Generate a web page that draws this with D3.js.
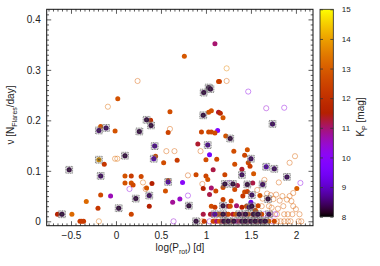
<!DOCTYPE html>
<html>
<head>
<meta charset="utf-8">
<script src="https://cdn.jsdelivr.net/npm/d3@7"></script>
<style>
  body { margin: 0; background: #fff; }
  text { font-family: "Liberation Sans", Arial, sans-serif; fill: #222; }
</style>
</head>
<body>
<svg id="chart" width="380" height="266"></svg>
<script>
// [log Prot, flares per day, Kp]
const filledPts = [
  [0.76,0.327,12.9],[0.02,0.243,12.8],[0.60,0.217,12.7],[0.385,0.200,12.0],[-0.17,0.188,12.8],
  [-0.01,0.179,12.8],[0.58,0.176,12.5],[1.14,0.277,12.7],[1.03,0.216,12.8],[1.06,0.219,12.8],
  [1.14,0.216,11.3],[1.10,0.352,11.0],[1.15,0.277,12.4],[1.16,0.214,11.8],[1.19,0.205,12.9],
  [1.13,0.180,9.8],[0.95,0.177,12.5],[1.03,0.177,12.6],[1.06,0.177,12.6],[0.44,0.129,12.7],
  [-0.13,0.113,12.2],[0.53,0.116,12.7],[0.68,0.121,12.3],[0.10,0.090,12.8],[0.17,0.090,12.3],
  [0.28,0.089,12.6],[0.10,0.076,12.8],[0.17,0.076,12.8],[0.19,0.072,12.6],[0.40,0.075,11.5],
  [0.74,0.077,10.0],[0.58,0.081,12.8],[0.34,0.066,12.9],[0.55,0.060,12.8],[-0.17,0.052,12.6],
  [-0.06,0.050,10.6],[-0.33,0.039,13.2],[0.63,0.038,10.8],[0.71,0.044,10.5],[0.37,0.030,11.5],
  [-0.20,0.026,12.2],[-0.65,0.014,11.6],[-0.49,0.014,13.2],[0.17,0.014,12.5],[-0.40,0.0,12.3],
  [-0.36,0.0,12.3],[-0.38,0.0,12.3],
  [1.22,0.169,12.8],[1.10,0.175,12.7],[0.91,0.153,11.3],[1.04,0.132,9.5],[1.00,0.122,12.7],
  [1.12,0.123,12.6],[1.31,0.139,12.7],[1.46,0.142,12.8],[1.43,0.131,12.5],[1.32,0.113,12.7],
  [1.47,0.116,12.6],[1.49,0.109,12.3],[2.01,0.065,13.0],[1.40,0.103,11.3],[1.08,0.102,11.2],
  [1.21,0.092,12.5],[0.89,0.092,12.6],[1.00,0.090,12.5],[1.53,0.094,12.9],[1.35,0.071,11.2],
  [1.52,0.076,11.2],[1.02,0.083,12.8],[1.06,0.066,11.0],[0.97,0.065,11.5],[1.19,0.067,12.7],
  [1.32,0.063,12.6],[1.43,0.058,12.7],[1.46,0.059,12.4],[1.60,0.051,12.8],[1.04,0.053,11.2],
  [1.11,0.060,12.6],[1.19,0.043,12.4],[1.28,0.040,12.7],[1.41,0.050,12.2],[1.50,0.038,9.3],
  [1.34,0.031,11.0],
  [1.06,0.030,12.7],[1.10,0.028,12.3],[1.25,0.030,11.3],[1.27,0.030,12.8],[1.40,0.028,11.6],
  [1.45,0.030,12.7],[1.58,0.031,12.5],[1.55,0.022,12.8],
  [0.97,0.014,11.2],[1.05,0.014,11.3],[1.08,0.014,11.0],[1.13,0.014,12.6],[1.16,0.014,12.7],
  [1.23,0.014,11.3],[1.25,0.014,12.5],[1.30,0.014,11.3],[1.33,0.014,12.8],[1.41,0.014,11.1],
  [1.47,0.014,12.7],[1.52,0.014,12.3],[1.56,0.014,11.2],[1.62,0.014,12.6],
  [0.98,0.0,12.2],[1.08,0.0,12.5],[1.12,0.0,11.0],[1.15,0.0,12.8],[1.18,0.0,11.3],
  [1.22,0.0,12.4],[1.29,0.0,12.7],[1.34,0.0,10.8],[1.37,0.0,11.2],[1.42,0.0,12.6],
  [1.47,0.0,11.3],[1.54,0.0,12.7],[1.58,0.0,11.5],[1.64,0.0,12.8],[1.70,0.0,13.0],[1.76,0.0,12.6]
];

const openPts = [
  [0.24,0.278,13.0],[-0.09,0.227,13.2],[0.60,0.183,13.0],[1.23,0.303,13.6],[1.23,0.278,13.0],
  [1.47,0.257,10.2],[1.67,0.224,10.4],[1.87,0.225,10.3],[0.56,0.139,13.0],[0.65,0.139,13.0],
  [-0.01,0.124,13.2],[0.015,0.124,13.2],[0.80,0.091,12.9],[0.30,0.077,13.2],[0.33,0.064,12.9],
  [0.15,0.064,10.3],[0.80,0.051,10.2],[-0.19,0.0,13.3],[0.64,0.0,10.4],[0.94,0.139,13.0],
  [1.99,0.129,13.1],[1.93,0.116,13.0],[2.05,0.076,10.2],[1.26,0.076,10.3],[1.65,0.082,13.0],
  [1.81,0.077,13.0],[0.96,0.074,13.0],[1.57,0.062,13.0],
  [1.68,0.055,13.0],[1.72,0.052,12.9],[1.78,0.053,13.0],[1.85,0.050,13.1],[1.93,0.050,13.0],
  [1.97,0.056,13.0],[1.75,0.044,13.0],[1.82,0.041,12.9],[1.90,0.043,13.1],[1.95,0.040,13.0],
  [1.63,0.045,13.0],
  [1.62,0.030,13.0],[1.73,0.027,13.0],[1.80,0.025,12.9],[1.86,0.030,13.0],[1.97,0.030,13.0],
  [2.00,0.024,13.0],[1.70,0.030,13.0],
  [1.72,0.014,13.0],[1.79,0.014,13.0],[1.77,0.014,10.3],[1.87,0.014,13.0],[1.91,0.014,13.0],
  [1.96,0.014,13.0],[2.04,0.014,13.0],[1.65,0.014,10.4],
  [0.96,0.0,13.0],[1.04,0.0,10.4],[1.10,0.0,13.0],[1.74,0.0,10.5],[1.83,0.0,13.0],
  [1.87,0.0,13.0],[1.91,0.0,13.0],[1.94,0.0,13.0],[2.03,0.0,13.0],[2.06,0.0,13.0],[1.79,0.0,13.0]
];

const starPts = [
  [0.34,0.201,8.3],[0.39,0.190,8.3],[-0.19,0.180,8.5],[-0.11,0.185,8.5],[0.26,0.178,8.3],
  [1.03,0.265,8.3],[1.05,0.262,8.3],[0.975,0.255,8.3],[0.97,0.210,8.3],[1.74,0.193,8.5],
  [0.43,0.149,8.8],[-0.19,0.122,14.0],[0.10,0.130,8.3],[0.42,0.124,9.0],[-0.52,0.102,8.3],
  [-0.17,0.090,8.5],[0.58,0.078,9.0],[0.37,0.051,8.5],[0.22,0.045,8.3],[0.03,0.026,8.3],
  [0.81,0.031,8.3],[-0.60,0.014,8.3],[1.27,0.164,8.3],[1.02,0.151,8.8],[1.50,0.124,8.5],
  [1.67,0.108,9.0],[1.76,0.104,8.5],[1.90,0.088,8.5],[1.40,0.092,8.5],[1.21,0.074,8.3],
  [1.30,0.074,8.3],[1.46,0.073,8.3],[1.63,0.073,8.5],[1.51,0.052,8.5],[1.69,0.044,8.3],
  [1.19,0.031,8.3],[1.48,0.028,8.5],[1.51,0.030,8.3],
  [1.10,0.014,9.0],[1.19,0.014,8.3],[1.37,0.014,8.3],[1.44,0.014,8.3],[1.53,0.014,8.3],
  [1.58,0.014,8.3],[1.70,0.014,8.5],
  [0.89,0.0,8.3],[1.20,0.0,8.3],[1.25,0.0,8.3],[1.31,0.0,8.3],[1.40,0.0,8.3],[1.44,0.0,8.3],
  [1.50,0.0,8.3],[1.55,0.0,8.3],[1.61,0.0,8.3],[1.66,0.0,8.3]
];

const xTicks = [-0.5, 0, 0.5, 1, 1.5, 2];
const yTicks = [0, 0.1, 0.2, 0.3, 0.4];
const kpTicks = [8, 9, 10, 11, 12, 13, 14, 15];

const plot = { left: 46.7, right: 313, top: 9.3, bottom: 225.7 };
const bar = { left: 320, right: 333.3, top: 9.3, bottom: 216.7 };

const svg = d3.select("#chart");

var x = d3.scaleLinear().domain([-0.77, 2.19]).range([plot.left, plot.right]);
var y = d3.scaleLinear().domain([-0.0087, 0.42]).range([plot.bottom, plot.top]);
var kpScale = d3.scaleLinear().domain([8, 15]).range([bar.bottom, bar.top]);

// gnuplot default palette (rgbformulae 7,5,15)
function gnuplot(t) {
    t = Math.max(0, Math.min(1, t));
    const r = Math.sqrt(t), g = t * t * t, b = Math.max(0, Math.sin(2 * Math.PI * t));
    return d3.rgb(r * 255, g * 255, b * 255).formatHex();
}
var color = d3.scaleSequential(gnuplot).domain([8, 15]);

// minor tick values
const xMinor = d3.range(-0.75, 2.19, 0.05).filter(v => Math.abs(v * 2 - Math.round(v * 2)) > 1e-6);
const yMinor = d3.range(0, 0.42, 0.01).filter(v => Math.abs(v * 10 - Math.round(v * 10)) > 1e-6);

function axisGroup(axis, tx, ty) {
    const g = svg.append("g").attr("transform", `translate(${tx},${ty})`).call(axis);
    g.select(".domain").remove();
    g.selectAll("line").attr("stroke", "#333").attr("stroke-width", 0.8);
    g.selectAll("text").attr("font-size", 10).style("fill", "#222");
    return g;
}

// major ticks + labels
axisGroup(d3.axisBottom(x).tickValues(xTicks).tickSize(-4.5).tickPadding(6)
    .tickFormat(d => d3.format("")(d).replace("-", "\u2212")), 0, plot.bottom);
axisGroup(d3.axisLeft(y).tickValues(yTicks).tickSize(-4.5).tickPadding(6)
    .tickFormat(d => d === 0 ? "0" : d3.format(".1f")(d)), plot.left, 0);
// mirrored ticks
axisGroup(d3.axisTop(x).tickValues(xTicks).tickSize(-4.5).tickFormat(""), 0, plot.top);
axisGroup(d3.axisRight(y).tickValues(yTicks).tickSize(-4.5).tickFormat(""), plot.right, 0);
// minor ticks
axisGroup(d3.axisBottom(x).tickValues(xMinor).tickSize(-2.3).tickFormat(""), 0, plot.bottom);
axisGroup(d3.axisTop(x).tickValues(xMinor).tickSize(-2.3).tickFormat(""), 0, plot.top);
axisGroup(d3.axisLeft(y).tickValues(yMinor).tickSize(-2.3).tickFormat(""), plot.left, 0);
axisGroup(d3.axisRight(y).tickValues(yMinor).tickSize(-2.3).tickFormat(""), plot.right, 0);

// clip for markers
svg.append("clipPath").attr("id", "clip").append("rect")
    .attr("x", plot.left).attr("y", plot.top)
    .attr("width", plot.right - plot.left).attr("height", plot.bottom - plot.top);
const marks = svg.append("g").attr("clip-path", "url(#clip)");

// open circles
marks.append("g").selectAll("circle")
    .data(openPts).enter().append("circle")
    .attr("cx", d => x(d[0])).attr("cy", d => y(d[1])).attr("r", 2.6)
    .attr("fill", "none").attr("stroke", d => color(d[2]))
    .attr("stroke-width", 0.75).attr("stroke-opacity", 0.6);

// filled circles
marks.append("g").selectAll("circle")
    .data(filledPts).enter().append("circle")
    .attr("cx", d => x(d[0])).attr("cy", d => y(d[1])).attr("r", 2.5)
    .attr("fill", d => color(d[2]));

// filled circles marked with square + asterisk
const star = marks.append("g").selectAll("g")
    .data(starPts).enter().append("g")
    .attr("transform", d => `translate(${x(d[0])},${y(d[1])})`);
star.append("rect").attr("x", -3.4).attr("y", -3.4).attr("width", 6.8).attr("height", 6.8)
    .attr("fill", "#999").attr("fill-opacity", 0.3)
    .attr("stroke", "#666").attr("stroke-width", 0.8).attr("stroke-dasharray", "1,0.7");
star.append("circle").attr("r", 2.5).attr("fill", d => color(d[2]));
star.append("path").attr("d", "M-2.6,0H2.6M0,-2.6V2.6M-1.9,-1.9L1.9,1.9M-1.9,1.9L1.9,-1.9")
    .attr("stroke", "#444").attr("stroke-width", 0.5).attr("fill", "none");

// frame
svg.append("rect").attr("x", plot.left).attr("y", plot.top)
    .attr("width", plot.right - plot.left).attr("height", plot.bottom - plot.top)
    .attr("fill", "none").attr("stroke", "#111").attr("stroke-width", 1);

// colour bar
const grad = svg.append("defs").append("linearGradient").attr("id", "kpgrad")
    .attr("x1", 0).attr("y1", 1).attr("x2", 0).attr("y2", 0);
d3.range(0, 1.0001, 0.02).forEach(t => {
    grad.append("stop").attr("offset", t).attr("stop-color", gnuplot(t));
});
svg.append("rect").attr("x", bar.left).attr("y", bar.top)
    .attr("width", bar.right - bar.left).attr("height", bar.bottom - bar.top)
    .attr("fill", "url(#kpgrad)").attr("stroke", "#222").attr("stroke-width", 0.8);

const cb = axisGroup(d3.axisRight(kpScale).tickValues(kpTicks).tickSize(-3).tickPadding(8.5)
    .tickFormat(d3.format("d")), bar.right, 0);
cb.selectAll("text").attr("font-size", 8);
axisGroup(d3.axisLeft(kpScale).tickValues(kpTicks).tickSize(-3).tickFormat(""), bar.left, 0);

// axis titles
const xl = svg.append("text").attr("x", 180).attr("y", 251)
    .attr("text-anchor", "middle").attr("font-size", 10);
xl.append("tspan").text("log(P");
xl.append("tspan").attr("font-size", 7).attr("dy", 2.5).text("rot");
xl.append("tspan").attr("dy", -2.5).text(") [d]");

const yl = svg.append("text").attr("transform", "translate(14,115) rotate(-90)")
    .attr("text-anchor", "middle").attr("font-size", 10);
yl.append("tspan").text("\u03bd [N");
yl.append("tspan").attr("font-size", 7).attr("dy", 2.5).text("Flares");
yl.append("tspan").attr("dy", -2.5).text("/day]");

const kl = svg.append("text").attr("transform", "translate(364,117) rotate(-90)")
    .attr("text-anchor", "middle").attr("font-size", 10);
kl.append("tspan").text("K");
kl.append("tspan").attr("font-size", 7).attr("dy", 2.5).text("P");
kl.append("tspan").attr("dy", -2.5).text(" [mag]");
</script>
</body>
</html>
